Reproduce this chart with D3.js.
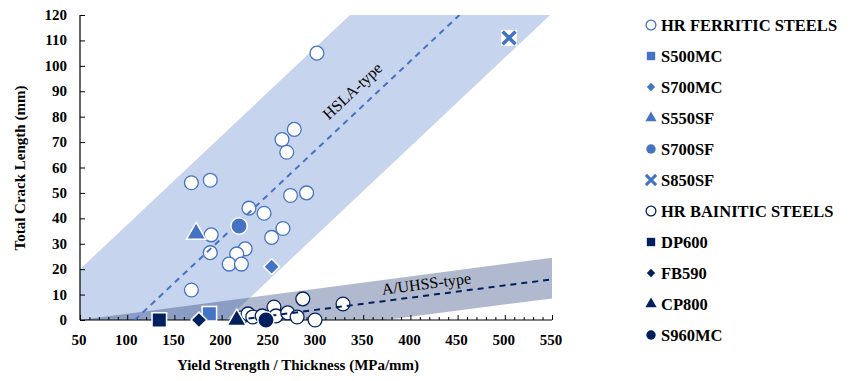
<!DOCTYPE html>
<html>
<head>
<meta charset="utf-8">
<script src="https://cdn.jsdelivr.net/npm/d3@7"></script>
<style>
  body { margin: 0; background: #fff; }
  text { font-family: "Liberation Serif", "Times New Roman", serif; }
  .tick-label { font-size: 15px; font-weight: bold; fill: #000; }
  .legend text { font-size: 16.5px; font-weight: bold; fill: #000; }
</style>
</head>
<body>
<svg class="plot" width="851" height="381"></svg>
<script>
// series values [yield strength / thickness, crack length]
var hrFerritic = [[301,105],[168,54],[188,55],[277,75],[264,71],[269,66],[273,49],[290,50],
                  [229,44],[245,42],[189,33.5],[253,32.5],[265,36],[188,26.5],[225,28],
                  [216,26],[208,22],[221,22],[168,11.8]];
var s500mc = [[187,2.5]];
var s700mc = [[253,21]];
var s550sf = [[173,34]];
var s700sf = [[218.5,37]];
var s850sf = [[504.5,111]];
var hrBainitic = [[220,0.8],[228,2.4],[233,1.2],[243,1.6],[255.5,5.1],[257.6,1.6],[270,2.8],
                  [280,1.2],[299,0],[286,8.3],[328.6,6.3]];
var dp600 = [[134,0]];
var fb590 = [[176,0]];
var cp800 = [[216,0]];
var s960mc = [[247,0]];

// trend bands and lines
var hslaBand = [[50,0],[50,20],[336,120],[548,120],[205,0]];
var hslaTrend = [[108,0],[452,120]];
var ahssBand = [[50,0],[550,24.5],[550,8.5],[373,0]];
var ahssTrend = [[217,0],[550,16]];

var xTicks = [50,100,150,200,250,300,350,400,450,500,550];
var yTicks = [0,10,20,30,40,50,60,70,80,90,100,110,120];

var blue = "#4472c4", navy = "#002060";

var svg = d3.select(".plot");

var x = d3.scaleLinear().domain([50,550]).range([80,552]),
    y = d3.scaleLinear().domain([0,120]).range([320,15]);

svg.append("clipPath").attr("id","clip")
  .append("rect").attr("x",80).attr("y",15).attr("width",472).attr("height",305);

var line = d3.line().x(function(d){ return x(d[0]); }).y(function(d){ return y(d[1]); });

//bands
var bands = svg.append("g").attr("clip-path","url(#clip)");
bands.append("path").attr("d", line(hslaBand) + "Z").attr("fill","#c6d4ee");
bands.append("path").attr("d", line(ahssBand) + "Z")
    .attr("fill","rgb(40,62,120)").attr("fill-opacity",0.36);

//axes
var gx = svg.append("g").attr("transform","translate(0,320)")
    .call(d3.axisBottom(x).tickValues(d3.range(50,551,10)).tickSize(-3).tickFormat(""));
gx.selectAll(".tick line").filter(function(d){ return d % 50 === 0; }).attr("y2",-5);
var gy = svg.append("g").attr("transform","translate(80,0)")
    .call(d3.axisLeft(y).tickValues(yTicks).tickSize(-5).tickFormat(""));
svg.selectAll(".domain").attr("stroke","#000").attr("stroke-width",1.2);
svg.selectAll(".tick line").attr("stroke","#000");
// remove outer ticks of the domain path
gx.select(".domain").attr("d","M80,0H552");
gy.select(".domain").attr("d","M0,15V320");

svg.selectAll(".xl").data(xTicks).enter().append("text")
    .attr("class","tick-label")
    .attr("x", function(d){ return x(d) - 1; })
    .attr("y", 345)
    .attr("text-anchor","middle")
    .text(function(d){ return d; });

svg.selectAll(".yl").data(yTicks).enter().append("text")
    .attr("class","tick-label")
    .attr("x", 67)
    .attr("y", function(d){ return y(d) + 5; })
    .attr("text-anchor","end")
    .text(function(d){ return d; });

svg.append("text")
    .attr("x",298).attr("y",370)
    .style("font-size","15px").style("font-weight","bold")
    .attr("text-anchor","middle")
    .text("Yield Strength / Thickness (MPa/mm)");

svg.append("text")
    .attr("transform","translate(25,168) rotate(-90)")
    .style("font-size","15px").style("font-weight","bold")
    .attr("text-anchor","middle")
    .text("Total Crack Length (mm)");

//markers
var sym = {
  circle: d3.symbol().type(d3.symbolCircle),
  square: d3.symbol().type(d3.symbolSquare),
  diamond: d3.symbol().type(d3.symbolSquare),
  triangle: d3.symbol().type(d3.symbolTriangle),
  cross: d3.symbol().type(d3.symbolX)
};

function drawSeries(data, shape, size, fill, stroke, sw) {
  svg.append("g").selectAll("path").data(data).enter().append("path")
    .attr("d", sym[shape].size(size)())
    .attr("transform", function(d){
      return "translate(" + x(d[0]) + "," + y(d[1]) + ")" + (shape === "diamond" ? " rotate(45)" : "");
    })
    .attr("fill", fill).attr("stroke", stroke).attr("stroke-width", sw);
}

drawSeries(hrFerritic, "circle", 150, "#fff", blue, 1.3);
drawSeries(hrBainitic, "circle", 150, "#fff", navy, 1.3);

//trend lines
svg.append("path").attr("clip-path","url(#clip)").attr("d", line(hslaTrend))
    .attr("stroke", blue).attr("stroke-width",2).attr("stroke-dasharray","6,5").attr("fill","none");
svg.append("path").attr("clip-path","url(#clip)").attr("d", line(ahssTrend))
    .attr("stroke", navy).attr("stroke-width",2).attr("stroke-dasharray","6,5").attr("fill","none");

drawSeries(s500mc, "square", 210, blue, "#fff", 1.5);
drawSeries(s700mc, "diamond", 125, blue, "#fff", 1.5);
drawSeries(s550sf, "triangle", 160, blue, "#fff", 1.5);
drawSeries(s700sf, "circle", 210, blue, "#fff", 1.5);
drawSeries(dp600, "square", 210, navy, "#fff", 1.5);
drawSeries(fb590, "diamond", 125, navy, "#fff", 1.5);
drawSeries(cp800, "triangle", 160, navy, "#fff", 1.5);
drawSeries(s960mc, "circle", 210, navy, "#fff", 1.5);
svg.append("g").selectAll("path").data(s850sf).enter().append("rect")
    .attr("x", function(d){ return x(d[0]) - 8; }).attr("y", function(d){ return y(d[1]) - 8; })
    .attr("width",16).attr("height",16).attr("fill","#fff");
drawSeries(s850sf, "cross", 110, "none", blue, 3.5);

//band labels
svg.append("text")
    .attr("transform","translate(356,95) rotate(-43.2)")
    .attr("text-anchor","middle")
    .style("font-size","16px")
    .text("HSLA-type");
svg.append("text")
    .attr("transform","translate(427,289) rotate(-7.4)")
    .attr("text-anchor","middle")
    .style("font-size","16px")
    .text("A/UHSS-type");

//legend
var legendNames = ["HR FERRITIC STEELS","S500MC","S700MC","S550SF","S700SF","S850SF",
                   "HR BAINITIC STEELS","DP600","FB590","CP800","S960MC"];
var legendShapes = ["open","square","diamond","triangle","circle","cross",
                    "open","square","diamond","triangle","circle"];
var legendColors = [blue,blue,blue,blue,blue,blue,navy,navy,navy,navy,navy];

var legend = svg.append("g").attr("class","legend");
legendNames.forEach(function(name, i) {
  var ly = 25 + i * 31, lx = 651;
  var shape = legendShapes[i], c = legendColors[i];
  var p = legend.append("path").attr("transform","translate(" + lx + "," + ly + ")" + (shape === "diamond" ? " rotate(45)" : ""));
  if (shape === "open") {
    p.attr("d", sym.circle.size(75)()).attr("fill","#fff").attr("stroke",c).attr("stroke-width",1.3);
  } else if (shape === "cross") {
    p.attr("d", sym.cross.size(70)()).attr("fill","none").attr("stroke",c).attr("stroke-width",3);
  } else {
    var s = {square:70, diamond:35, triangle:55, circle:70}[shape];
    p.attr("d", sym[shape].size(s)()).attr("fill",c);
  }
  legend.append("text").attr("x",661).attr("y",ly + 6).text(name);
});
</script>
</body>
</html>
